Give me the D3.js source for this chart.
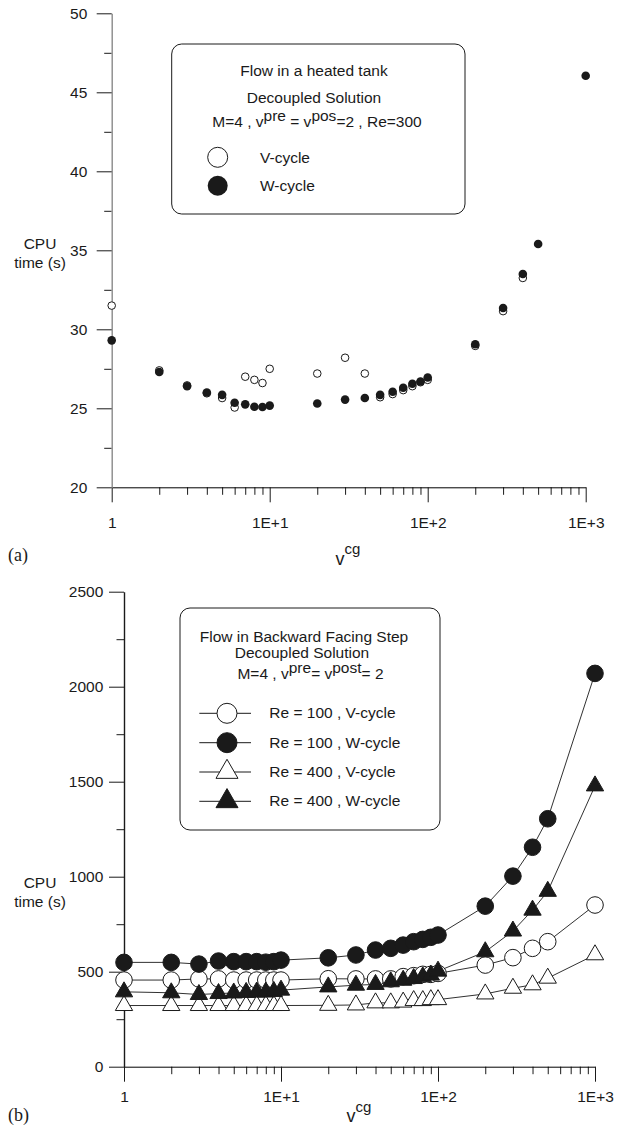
<!DOCTYPE html>
<html><head><meta charset="utf-8">
<script src="https://cdn.jsdelivr.net/npm/d3@7"></script>
<style>
body{margin:0;background:#fff}
svg{display:block}
text{font-family:"Liberation Sans",Arial,sans-serif;fill:#1a1a1a;font-size:15.5px}
.serif{font-family:"Liberation Serif","Times New Roman",serif;font-size:18px}
</style>
</head><body>
<svg id="c" width="617" height="1129"></svg>
<script>
// ---------- data ----------
const cgValues = [1,2,3,4,5,6,7,8,9,10,20,30,40,50,60,70,80,90,100,200,300,400,500,1000];
const xMajor = [1,10,100,1000];
const xMajorLabels = ["1","1E+1","1E+2","1E+3"];
const xMinor = [2,3,4,5,6,7,8,9,20,30,40,50,60,70,80,90,200,300,400,500,600,700,800,900];

// (a) heated tank, Re=300
const tankV = [31.5,27.4,26.45,25.95,25.65,25.05,27.0,26.8,26.6,27.5,27.2,28.2,27.2,25.7,25.9,26.15,26.4,26.65,26.8,28.95,31.15,33.25,null,null];
const tankW = [29.3,27.3,26.4,26.0,25.85,25.35,25.25,25.1,25.08,25.17,25.3,25.55,25.65,25.85,26.05,26.3,26.55,26.7,26.95,29.05,31.35,33.5,35.4,46.05];
const yMajorA = [20,25,30,35,40,45,50];
const yMinorA = [22.5,27.5,32.5,37.5,42.5,47.5];

// (b) backward facing step
const stepV100 = [456,456,462,462,456,456,456,456,456,456,463,462,462,462,474,479,486,486,491,535,574,623,658,851];
const stepW100 = [549,549,540,556,553,553,553,550,553,561,573,588,614,623,640,658,670,681,693,845,1003,1155,1305,2070];
const stepV400 = [322,322,322,322,322,322,322,322,322,322,323,325,336,336,340,348,348,353,353,383,413,431,466,589];
const stepW400 = [394,389,380,385,388,391,393,393,396,403,420,429,433,447,455,464,473,482,503,605,714,824,923,1478];
const yMajorB = [0,500,1000,1500,2000,2500];
const yMinorB = [250,750,1250,1750,2250];

const legendA = ["V-cycle","W-cycle"];
const legendB = ["Re = 100 , V-cycle","Re = 100 , W-cycle","Re = 400 , V-cycle","Re = 400 , W-cycle"];

// ---------- drawing ----------
const svg = d3.select("#c");

function axes(g, x, y, yMaj, yMin, yLabelPad, xLabelPad, yAxisColor){
  const y0 = y.range()[0], x0 = x.range()[0];
  g.append("g").attr("transform",`translate(0,${y0})`)
    .call(d3.axisBottom(x).tickValues(xMinor).tickSize(7.5).tickSizeOuter(0).tickFormat(""))
    .call(s=>s.select(".domain").remove());
  g.append("g").attr("transform",`translate(0,${y0})`)
    .call(d3.axisBottom(x).tickValues(xMajor).tickSize(15).tickSizeOuter(0).tickPadding(xLabelPad)
      .tickFormat((d,i)=>xMajorLabels[i]))
    .call(s=>s.selectAll("text").style("font-size","15.5px").attr("fill","#1a1a1a"));
  g.append("g").attr("transform",`translate(${x0},0)`)
    .call(d3.axisLeft(y).tickValues(yMin).tickSize(7.5).tickSizeOuter(0).tickFormat(""))
    .call(s=>s.select(".domain").remove());
  g.append("g").attr("transform",`translate(${x0},0)`)
    .call(d3.axisLeft(y).tickValues(yMaj).tickSize(15).tickSizeOuter(0).tickPadding(yLabelPad).tickFormat(d=>String(d)))
    .call(s=>s.select(".domain").attr("stroke",yAxisColor).attr("stroke-width",1.4))
    .call(s=>s.selectAll("text").style("font-size","15.5px").attr("fill","#1a1a1a"));
  g.selectAll(".tick line").attr("stroke","#1a1a1a");
}

function supText(g, x, y, parts, anchor){
  const t = g.append("text").attr("x",x).attr("y",y).attr("text-anchor",anchor||"middle");
  parts.forEach(p=>{
    const ts = t.append("tspan").text(p.t);
    if(p.dy) ts.attr("dy",p.dy);
    if(p.fs) ts.style("font-size",p.fs);
  });
  return t;
}

// ===== (a) =====
{
  const g = svg.append("g");
  const x = d3.scaleLog().domain([1,1000]).range([111.7,585.7]);
  const y = d3.scaleLinear().domain([20,50]).range([487.3,13.3]);
  axes(g, x, y, yMajorA, yMinorA, 9.4, 14.7, "#8a8a8a");

  const V = cgValues.map((n,i)=>({n,v:tankV[i]})).filter(d=>d.v!=null);
  const W = cgValues.map((n,i)=>({n,v:tankW[i]}));
  g.append("g").selectAll("circle").data(V).join("circle")
    .attr("cx",d=>x(d.n)).attr("cy",d=>y(d.v)).attr("r",3.8)
    .attr("fill","#fff").attr("stroke","#1a1a1a").attr("stroke-width",1);
  g.append("g").selectAll("circle").data(W).join("circle")
    .attr("cx",d=>x(d.n)).attr("cy",d=>y(d.v)).attr("r",4.3)
    .attr("fill","#1a1a1a");

  g.append("rect").attr("x",171.7).attr("y",44).attr("width",293.3).attr("height",170)
    .attr("rx",10).attr("fill","#fff").attr("stroke","#1a1a1a").attr("stroke-width",1);
  g.append("text").attr("x",314).attr("y",76).attr("text-anchor","middle").text("Flow in a heated tank");
  g.append("text").attr("x",314).attr("y",103.3).attr("text-anchor","middle").text("Decoupled Solution");
  supText(g, 317, 127, [{t:"M=4 , v"},{t:"pre",dy:-6},{t:" = v",dy:6},{t:"pos",dy:-6},{t:"=2 , Re=300",dy:6}]);
  g.append("circle").attr("cx",217.7).attr("cy",157.3).attr("r",10).attr("fill","#fff").attr("stroke","#1a1a1a");
  g.append("circle").attr("cx",217.7).attr("cy",185.7).attr("r",10).attr("fill","#1a1a1a");
  g.append("text").attr("x",260).attr("y",162.5).text(legendA[0]);
  g.append("text").attr("x",260).attr("y",190.8).text(legendA[1]);

  g.append("text").attr("x",40).attr("y",249).attr("text-anchor","middle").text("CPU");
  g.append("text").attr("x",40).attr("y",268).attr("text-anchor","middle").text("time (s)");
  supText(g, 348, 565, [{t:"v",fs:"18px"},{t:"cg",dy:-11,fs:"15px"}]);
  g.append("text").attr("class","serif").attr("x",8).attr("y",561).text("(a)");
}

// ===== (b) =====
{
  const g = svg.append("g");
  const x = d3.scaleLog().domain([1,1000]).range([124,595]);
  const y = d3.scaleLinear().domain([0,2500]).range([1066.7,591.7]);
  axes(g, x, y, yMajorB, yMinorB, 5.7, 9.3, "#1a1a1a");

  const series = [
    {vals:stepV100, sym:d3.symbolCircle, filled:false},
    {vals:stepW100, sym:d3.symbolCircle, filled:true},
    {vals:stepV400, sym:d3.symbolTriangle, filled:false},
    {vals:stepW400, sym:d3.symbolTriangle, filled:true}
  ];
  const line = d3.line().x(d=>x(d.n)).y(d=>y(d.v));
  series.forEach(s=>{
    s.pts = cgValues.map((n,i)=>({n,v:s.vals[i]}));
    g.append("path").attr("d",line(s.pts)).attr("fill","none").attr("stroke","#1a1a1a").attr("stroke-width",0.9);
  });
  series.forEach(s=>{
    const size = s.sym===d3.symbolCircle ? Math.PI*8.3*8.3 : 130;
    g.append("g").selectAll("path").data(s.pts).join("path")
      .attr("transform",d=>`translate(${x(d.n)},${y(d.v)})`)
      .attr("d",d3.symbol(s.sym,size)())
      .attr("fill",s.filled?"#1a1a1a":"#fff")
      .attr("stroke","#1a1a1a").attr("stroke-width",1);
  });

  g.append("rect").attr("x",180).attr("y",608).attr("width",260).attr("height",222)
    .attr("rx",10).attr("fill","#fff").attr("stroke","#1a1a1a").attr("stroke-width",1);
  g.append("text").attr("x",304).attr("y",641.7).attr("text-anchor","middle").text("Flow in Backward Facing Step");
  g.append("text").attr("x",302).attr("y",658.3).attr("text-anchor","middle").text("Decoupled Solution");
  supText(g, 310.5, 679.3, [{t:"M=4 , v"},{t:"pre",dy:-6},{t:"= v",dy:6},{t:"post",dy:-6},{t:"= 2",dy:6}]);
  const rows = [713.3,742.7,772,801.3];
  series.forEach((s,i)=>{
    g.append("line").attr("x1",199.3).attr("x2",251).attr("y1",rows[i]).attr("y2",rows[i])
      .attr("stroke","#1a1a1a").attr("stroke-width",1);
    const size = s.sym===d3.symbolCircle ? Math.PI*10*10 : 210;
    g.append("path").attr("transform",`translate(227,${rows[i]})`)
      .attr("d",d3.symbol(s.sym,size)())
      .attr("fill",s.filled?"#1a1a1a":"#fff").attr("stroke","#1a1a1a");
    g.append("text").attr("x",269.3).attr("y",rows[i]+5).text(legendB[i]);
  });

  g.append("text").attr("x",40).attr("y",888).attr("text-anchor","middle").text("CPU");
  g.append("text").attr("x",40).attr("y",907).attr("text-anchor","middle").text("time (s)");
  supText(g, 359, 1122, [{t:"v",fs:"18px"},{t:"cg",dy:-10,fs:"15px"}]);
  g.append("text").attr("class","serif").attr("x",8).attr("y",1121).text("(b)");
}
</script>
</body></html>
